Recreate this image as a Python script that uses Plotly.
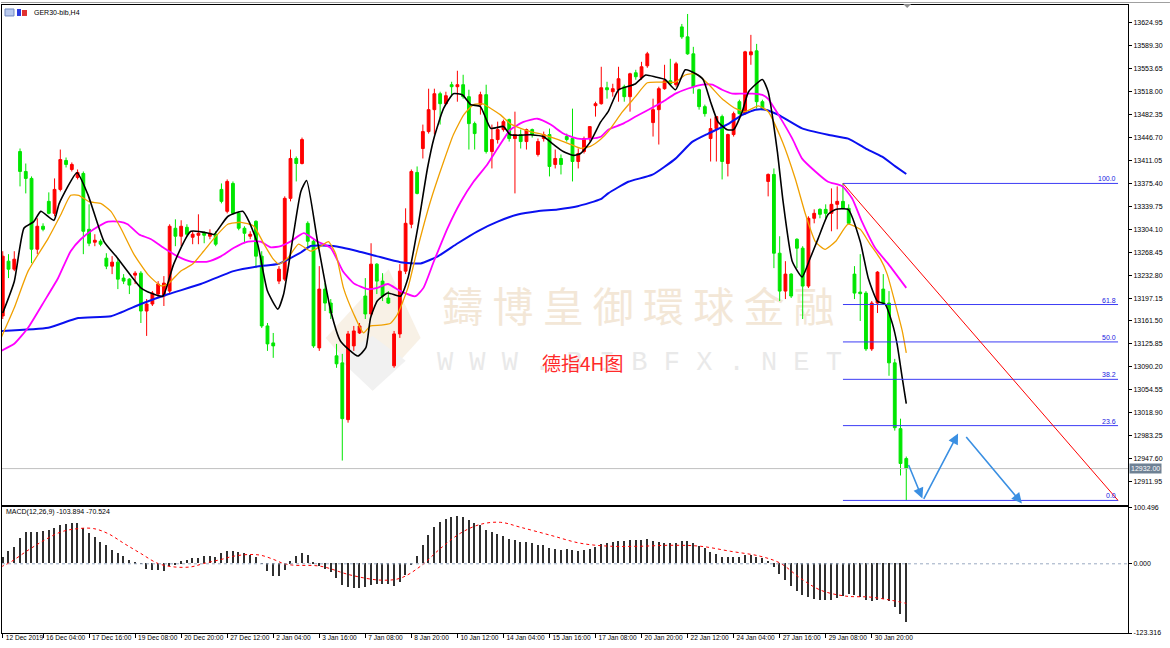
import plotly.graph_objects as go

# ---------------- data ----------------
bar_idx = list(range(1, 159))
opens = [13169.3,13254.5,13242.1,13425.0,13394.0,13383.2,13273.1,13308.8,13347.5,13328.9,
         13366.1,13411.1,13397.1,13384.7,13390.9,13304.1,13284.0,13285.5,13259.2,13246.8,
         13253.0,13228.2,13226.6,13232.8,13235.9,13177.0,13187.9,13203.4,13200.3,13208.0,
         13305.7,13293.3,13307.2,13291.7,13294.8,13297.9,13293.3,13296.4,13366.1,13332.0,
         13375.4,13328.9,13305.7,13293.3,13316.5,13262.3,13153.8,13127.4,13223.5,13226.6,
         13352.2,13414.2,13406.4,13313.4,13285.5,13119.7,13211.1,13189.4,13107.3,13096.4,
         13008.1,13122.8,13142.9,13200.3,13172.4,13249.9,13223.5,13197.2,13091.8,13141.4,
         13239.0,13311.9,13392.5,13429.7,13456.0,13490.1,13514.9,13499.4,13528.9,13525.8,
         13528.9,13510.3,13468.4,13497.9,13513.4,13425.0,13443.6,13459.1,13474.6,13445.2,
         13451.4,13440.5,13459.1,13420.4,13445.2,13451.4,13404.9,13414.2,13448.3,13445.2,
         13409.5,13425.0,13445.2,13496.3,13499.4,13524.2,13518.0,13521.1,13525.8,13510.3,
         13547.5,13539.7,13558.3,13470.0,13490.1,13522.7,13535.1,13528.9,13618.8,13603.3,
         13576.9,13521.1,13494.8,13445.2,13460.7,13479.3,13406.4,13451.4,13502.5,13483.9,
         13575.4,13581.6,13502.5,13378.5,13389.4,13266.9,13208.0,13234.4,13288.6,13274.7,
         13215.8,13321.2,13335.1,13335.1,13328.9,13342.9,13347.5,13336.7,13234.4,13206.5,
         13204.9,13118.1,13189.4,13211.1,13189.4,13096.4,12994.1,12947.6]
highs = [13270.0,13265.4,13270.0,13429.7,13406.4,13386.3,13321.2,13313.4,13361.5,13383.2,
         13428.1,13415.7,13408.0,13397.1,13394.0,13342.9,13296.4,13288.6,13266.9,13262.3,
         13259.2,13234.4,13228.2,13239.0,13239.0,13195.6,13208.0,13223.5,13231.3,13311.9,
         13319.6,13318.1,13311.9,13301.0,13327.4,13301.0,13304.1,13301.0,13375.4,13381.6,
         13378.5,13332.0,13308.8,13301.0,13318.1,13270.0,13158.4,13142.9,13246.8,13355.3,
         13428.1,13417.3,13446.7,13316.5,13288.6,13246.8,13220.4,13195.6,13125.9,13110.4,
         13146.0,13153.8,13158.4,13228.2,13282.4,13251.4,13235.9,13208.0,13146.0,13249.9,
         13336.7,13397.1,13401.8,13466.9,13522.7,13522.7,13518.0,13518.0,13533.5,13550.6,
         13544.4,13521.1,13471.5,13518.0,13528.9,13466.9,13471.5,13474.6,13476.2,13487.0,
         13459.1,13460.7,13460.7,13445.2,13456.0,13460.7,13428.1,13420.4,13452.9,13491.7,
         13429.7,13448.3,13463.8,13502.5,13556.8,13533.5,13530.4,13556.8,13528.9,13547.5,
         13552.1,13564.5,13580.0,13507.2,13525.8,13559.9,13569.2,13564.5,13623.4,13638.9,
         13587.8,13522.7,13497.9,13476.2,13479.3,13482.4,13452.9,13487.0,13505.6,13581.6,
         13606.4,13592.4,13505.6,13390.9,13398.7,13293.3,13254.5,13235.9,13290.2,13277.8,
         13324.3,13335.1,13336.7,13342.9,13367.7,13370.8,13375.4,13342.9,13246.8,13265.4,
         13208.0,13192.5,13239.0,13234.4,13208.0,13102.6,13009.6,12950.7]
lows = [13164.6,13228.2,13239.0,13370.8,13359.9,13251.4,13265.4,13301.0,13327.4,13324.3,
        13363.0,13400.2,13394.0,13381.6,13265.4,13277.8,13277.8,13277.8,13242.1,13234.4,
        13211.1,13218.9,13203.4,13218.9,13158.4,13138.3,13184.8,13197.2,13184.8,13204.9,
        13277.8,13277.8,13293.3,13280.9,13280.9,13282.4,13288.6,13277.8,13344.4,13328.9,
        13327.4,13302.6,13282.4,13288.6,13243.7,13150.7,13115.0,13104.2,13218.9,13223.5,
        13347.5,13378.5,13404.9,13274.7,13119.7,13115.0,13177.0,13164.6,13088.7,12944.5,
        13003.4,13115.0,13141.4,13164.6,13169.3,13203.4,13192.5,13187.9,13088.7,13135.2,
        13234.4,13305.7,13358.4,13414.2,13452.9,13451.4,13466.9,13497.9,13510.3,13502.5,
        13507.2,13428.1,13428.1,13482.4,13421.9,13398.7,13437.4,13456.0,13440.5,13359.9,
        13429.7,13428.1,13446.7,13417.3,13440.5,13386.3,13398.7,13389.4,13440.5,13378.5,
        13398.7,13421.9,13440.5,13479.3,13497.9,13507.2,13510.3,13502.5,13502.5,13487.0,
        13536.6,13536.6,13555.2,13448.3,13435.9,13521.1,13528.9,13525.8,13600.2,13575.4,
        13514.9,13490.1,13479.3,13409.5,13409.5,13381.6,13386.3,13448.3,13482.4,13482.4,
        13559.9,13491.7,13490.1,13355.3,13243.7,13192.5,13195.6,13197.2,13243.7,13164.6,
        13212.7,13313.4,13321.2,13321.2,13301.0,13304.1,13335.1,13311.9,13195.6,13161.5,
        13115.0,13115.0,13173.9,13187.9,13076.3,12991.0,12921.3,12882.5]
closes = [13262.3,13242.1,13257.6,13394.0,13383.2,13273.1,13308.8,13304.1,13328.9,13366.1,
          13412.6,13404.9,13404.9,13392.5,13301.0,13282.4,13287.1,13280.9,13246.8,13253.0,
          13226.6,13223.5,13217.3,13235.9,13177.0,13187.9,13204.9,13218.9,13220.4,13308.8,
          13293.3,13308.8,13296.4,13296.4,13297.9,13294.8,13297.9,13280.9,13347.5,13378.5,
          13328.9,13305.7,13297.9,13296.4,13262.3,13153.8,13125.9,13122.8,13242.1,13352.2,
          13414.2,13406.4,13443.6,13285.5,13122.8,13211.1,13189.4,13173.9,13094.9,13009.6,
          13141.4,13146.0,13153.8,13172.4,13249.9,13223.5,13200.3,13189.4,13141.4,13239.0,
          13313.4,13394.0,13359.9,13456.0,13490.1,13514.9,13499.4,13511.8,13525.8,13528.9,
          13510.3,13468.4,13452.9,13513.4,13425.0,13443.6,13459.1,13471.5,13445.2,13451.4,
          13440.5,13459.1,13451.4,13440.5,13451.4,13401.8,13414.2,13404.9,13443.6,13409.5,
          13421.9,13445.2,13463.8,13499.4,13524.2,13521.1,13522.7,13538.2,13510.3,13545.9,
          13541.3,13556.8,13576.9,13490.1,13522.7,13535.1,13530.4,13561.4,13603.3,13576.9,
          13525.8,13494.8,13483.9,13460.7,13479.3,13409.5,13451.4,13483.9,13483.9,13580.0,
          13580.0,13502.5,13491.7,13389.4,13266.9,13208.0,13234.4,13200.3,13274.7,13215.8,
          13321.2,13328.9,13327.4,13328.9,13342.9,13347.5,13336.7,13313.4,13204.9,13204.0,
          13118.1,13189.4,13237.5,13189.4,13096.4,12995.6,12939.9,12932.0]

# moving averages
fast_idx = [1.0,3.0,4.7,6.4,7.6,9.9,10.8,13.9,15.8,18.6,20.7,25.0,26.7,28.8,30.7,33.7,36.8,37.7,40.1,42.7,
            43.8,45.3,47.0,48.8,49.8,51.4,52.8,53.8,55.7,58.0,59.7,62.7,64.1,64.9,66.1,67.9,70.1,71.4,73.1,74.8,
            75.9,77.6,79.3,80.9,82.3,84.0,85.8,88.0,89.2,92.7,95.0,96.7,98.4,100.2,101.4,103.1,104.9,106.2,108.0,110.9,
            112.7,114.4,116.1,117.9,119.6,121.4,122.7,124.0,125.3,126.9,128.0,129.5,130.6,133.0,134.0,135.6,136.6,138.2,
            139.9,141.3,142.7,144.4,145.7,147.9,150.0,151.4,153.0,154.3,155.6,156.4,157.3,158.0]
fast_val = [13174,13223,13306,13316,13332,13318,13344,13392,13358,13285,13262,13213,13205,13200,13250,13301,13298,
            13296,13324,13332,13316,13281,13208,13180,13203,13290,13363,13380,13285,13177,13130,13107,13120,13166,
            13193,13205,13200,13228,13306,13399,13445,13492,13515,13513,13498,13495,13461,13464,13451,13451,13448,
            13436,13425,13419,13422,13440,13471,13487,13521,13530,13544,13541,13537,13521,13552,13546,13537,13502,
            13471,13459,13459,13487,13518,13537,13518,13425,13347,13254,13230,13259,13290,13327,13335,13335,13285,
            13228,13192,13188,13157,13126,13073,13033]
mid_idx = [0.7,3.0,5.4,8.9,11.1,12.8,14.2,16.0,18.1,19.8,21.5,23.8,26.2,28.5,29.7,31.9,34.0,35.9,38.0,40.1,
           42.4,44.6,46.4,47.9,49.0,50.5,52.4,54.5,56.3,57.6,58.9,60.2,62.0,63.7,64.9,66.7,68.4,69.6,71.4,73.1,
           75.3,77.6,79.3,81.1,82.8,84.4,85.8,87.5,89.2,91.0,92.7,95.0,97.4,99.7,101.4,103.1,104.9,106.2,108.7,110.9,
           113.0,115.6,117.9,119.6,121.4,123.6,126.0,128.3,130.0,132.3,134.0,136.5,138.7,140.5,142.2,143.9,145.7,
           147.9,150.0,151.7,153.5,154.7,156.1,157.3,158.0]
mid_val = [13135,13182,13239,13290,13327,13357,13357,13347,13344,13332,13306,13265,13234,13216,13219,13239,13250,
           13270,13293,13312,13315,13309,13281,13259,13250,13259,13281,13270,13278,13285,13265,13213,13172,13143,
           13154,13155,13158,13172,13213,13275,13347,13409,13451,13482,13498,13499,13492,13482,13468,13461,13456,
           13451,13444,13436,13430,13433,13444,13456,13487,13510,13532,13533,13533,13544,13546,13530,13507,13492,
           13487,13496,13487,13440,13383,13327,13285,13273,13285,13312,13304,13281,13258,13234,13188,13146,13112]
slow_idx = [0.7,3.0,5.4,8.2,10.6,12.8,14.6,16.8,19.3,21.2,22.7,24.7,26.7,29.0,31.4,33.7,36.6,38.9,41.1,43.6,
            45.8,47.6,49.3,51.0,53.3,55.7,58.0,60.1,62.0,64.4,66.1,67.9,70.1,72.7,74.1,75.9,78.3,80.6,82.8,85.2,
            87.0,89.2,91.5,93.9,96.2,98.4,100.9,103.1,104.9,106.2,108.7,110.9,113.2,115.6,117.9,120.1,122.6,124.3,
            126.0,127.8,129.5,131.3,133.0,134.0,135.8,138.2,139.9,142.2,144.4,146.9,148.6,150.3,152.6,154.9,158.0]
slow_val = [13115,13126,13151,13192,13228,13270,13289,13304,13316,13316,13312,13296,13289,13275,13262,13254,13254,
            13262,13275,13285,13285,13276,13278,13285,13298,13285,13275,13239,13220,13211,13213,13219,13208,13200,
            13213,13254,13306,13347,13378,13405,13430,13459,13471,13476,13467,13453,13445,13445,13448,13459,13468,
            13479,13490,13502,13515,13523,13529,13529,13521,13515,13515,13515,13513,13507,13482,13445,13414,13394,
            13378,13371,13352,13316,13275,13250,13213]
long_idx = [0.7,8.9,14.1,19.8,25.0,29.7,35.4,41.1,45.8,48.8,52.8,54.5,58.5,62.7,66.1,70.1,73.6,76.6,80.0,83.5,
            87.0,90.5,93.9,97.4,100.9,104.9,106.2,109.7,113.9,117.9,120.8,123.6,127.1,129.5,131.8,133.5,135.8,
            139.9,144.4,147.9,150.9,153.8,156.1,158.0]
long_val = [13146,13151,13166,13169,13188,13203,13219,13239,13247,13250,13268,13278,13278,13270,13262,13253,13251,
            13262,13282,13301,13316,13327,13332,13335,13340,13351,13360,13378,13389,13414,13440,13453,13468,13482,
            13490,13490,13482,13461,13451,13445,13430,13417,13402,13390]

# MACD(12,26,9)
macd_hist = [11.7,22.9,30.0,46.0,55.6,56.1,56.7,57.9,59.1,62.7,68.0,70.3,71.6,71.6,62.7,53.8,47.8,38.9,33.0,24.2,
             18.3,12.3,5.2,2.8,-0.7,-10.1,-12.6,-12.6,-14.4,-5.5,-2.5,3.4,6.4,9.4,10.5,12.3,12.3,11.2,18.3,22.9,
             22.4,20.1,18.3,15.3,11.2,0.5,-14.4,-23.3,-22.0,-11.4,3.4,13.5,18.8,15.3,2.8,-4.3,-9.6,-14.9,-25.6,-38.0,
             -41.6,-43.3,-43.3,-41.6,-38.0,-36.2,-36.2,-36.2,-39.8,-32.7,-20.2,-2.5,13.5,33.0,50.8,65.0,73.9,79.2,82.8,84.5,
             82.8,77.4,72.1,68.6,59.7,56.1,52.6,49.0,43.7,41.9,38.4,38.4,36.6,33.0,33.0,27.7,25.9,24.2,25.9,24.2,
             22.4,24.2,25.9,29.5,34.8,36.6,38.4,40.1,40.1,41.9,41.9,41.9,43.7,40.1,38.4,36.6,36.6,36.6,40.1,40.1,
             36.6,31.3,27.7,20.6,17.0,11.7,11.7,11.7,11.7,15.3,15.3,11.7,9.9,4.6,-6.0,-18.5,-29.1,-39.8,-48.7,-55.8,
             -59.3,-62.9,-64.6,-64.6,-64.6,-61.1,-57.5,-54.0,-55.8,-59.3,-64.6,-66.4,-64.6,-62.9,-66.4,-77.1,-89.5,-103.9]
sig_idx = [0.7,2.4,5.4,8.2,11.1,14.1,16.8,19.3,22.1,25.0,28.0,30.7,33.7,35.9,38.9,41.1,43.6,45.8,48.1,49.8,
           51.6,56.2,61.5,66.7,70.1,73.6,77.1,80.5,84.0,87.5,91.0,96.2,101.4,106.6,111.8,117.0,122.2,127.4,132.6,
           136.1,139.6,143.1,147.4,151.7,155.2,158.0]
sig_val = [-5.5,3.4,24.2,41.9,56.7,62.7,62.7,53.8,36.1,18.3,0.5,-5.5,-5.5,0.5,7.6,13.5,16.5,15.3,7.6,0.5,
           -2.5,-4.3,-20.2,-29.1,-25.6,-4.3,27.7,54.3,70.3,73.9,65.0,50.8,36.6,31.3,31.3,33.0,31.3,22.4,13.5,
           1.1,-25.6,-46.9,-57.5,-59.3,-64.6,-70.5]

# axis labels
price_ticks = [13624.95,13589.30,13553.65,13518.00,13482.35,13446.70,13411.05,13375.40,13339.75,13304.10,
               13268.45,13232.80,13197.15,13161.50,13125.85,13090.20,13054.55,13018.90,12983.25,12947.60,12911.95]
macd_ticks = [100.496, 0.0, -123.316]
macd_tick_text = ["100.496", "0.000", "-123.316"]
time_tick_idx = [1] + list(range(8, 153, 8))
time_tick_text = ["12 Dec 2019","16 Dec 04:00","17 Dec 16:00","19 Dec 08:00","20 Dec 20:00","27 Dec 12:00",
                  "2 Jan 04:00","3 Jan 16:00","7 Jan 08:00","8 Jan 20:00","10 Jan 12:00","14 Jan 04:00",
                  "15 Jan 16:00","17 Jan 08:00","20 Jan 20:00","22 Jan 12:00","24 Jan 04:00","27 Jan 16:00",
                  "29 Jan 08:00","30 Jan 20:00"]

# drawings
fib_start_idx, fib_end_idx = 147, 194.8
fib_high, fib_low = 13375.4, 12882.5
fib_levels = [100.0, 61.8, 50.0, 38.2, 23.6, 0.0]
last_price = 12932.00
arrow_from_idx = [158.3, 160.9, 168.2]
arrow_from_px = [12939.9, 12882.5, 12983.3]
arrow_to_idx = [160.8, 167.0, 178.1]
arrow_to_px = [12885.6, 12986.4, 12877.9]

# ---------------- layout helpers ----------------
W, H = 1170, 648
PL, PR, PT, PB = 1, 1128, 3, 633
def xp(px):
    return (px - PL) / (PR - PL)
def yp(py):
    return (PB - py) / (PB - PT)

X_RANGE = [0.868, 196.53]
Y_RANGE = [12874.75, 13652.85]
M_RANGE = [-123.316, 100.496]
FONT = "Liberation Sans"

fig = go.Figure()
fig.add_trace(go.Candlestick(
    x=bar_idx, open=opens, high=highs, low=lows, close=closes,
    increasing=dict(line=dict(color="#ff0000", width=1), fillcolor="#ff0000"),
    decreasing=dict(line=dict(color="#00e600", width=1), fillcolor="#00e600"),
    whiskerwidth=0, hoverinfo="skip", xaxis="x", yaxis="y", showlegend=False))

for xs, ys, col, w in [(long_idx, long_val, "#0a10f0", 2),
                       (slow_idx, slow_val, "#ff00ff", 1.8),
                       (mid_idx, mid_val, "#f0a000", 1.3),
                       (fast_idx, fast_val, "#000000", 1.6)]:
    fig.add_trace(go.Scatter(x=xs, y=ys, mode="lines", line=dict(color=col, width=w, shape="spline", smoothing=0.5),
                             hoverinfo="skip", showlegend=False, xaxis="x", yaxis="y"))

fig.add_trace(go.Bar(x=bar_idx, y=macd_hist, width=0.25, marker=dict(color="#303030", line=dict(width=0)),
                     hoverinfo="skip", showlegend=False, xaxis="x2", yaxis="y2"))
fig.add_trace(go.Scatter(x=sig_idx, y=sig_val, mode="lines", line=dict(color="#ff0000", width=1, dash="dot", shape="spline"),
                         hoverinfo="skip", showlegend=False, xaxis="x2", yaxis="y2"))

shapes = []
annotations = []

# watermark (below the data)
shapes.append(dict(type="path", xref="paper", yref="paper", layer="below",
                   path=f"M {xp(325)} {yp(337)} L {xp(388)} {yp(268)} L {xp(420)} {yp(337)} L {xp(372)} {yp(390)} Z",
                   fillcolor="#f8f1e6", line=dict(width=0)))
shapes.append(dict(type="path", xref="paper", yref="paper", layer="below",
                   path=f"M {xp(335)} {yp(355)} L {xp(372)} {yp(390)} L {xp(405)} {yp(360)} L {xp(372)} {yp(335)} Z",
                   fillcolor="#f1f1f1", line=dict(width=0)))
shapes.append(dict(type="rect", xref="paper", yref="paper", layer="below",
                   x0=xp(414), x1=xp(862), y0=yp(336), y1=yp(284), line=dict(width=0),
                   fillcolor="rgba(0,0,0,0)",
                   label=dict(text="鑄 博 皇 御 環 球 金 融", textposition="middle center",
                              font=dict(size=41, color="#f3e7d7", family="Noto Sans CJK TC"))))
shapes.append(dict(type="rect", xref="paper", yref="paper", layer="below",
                   x0=xp(416), x1=xp(862), y0=yp(372), y1=yp(342), line=dict(width=0),
                   fillcolor="rgba(0,0,0,0)",
                   label=dict(text="W W W . B I B F X . N E T", textposition="middle center",
                              font=dict(size=27, color="#e9e9e9", family="Liberation Mono"))))

# current price line
shapes.append(dict(type="line", xref="paper", yref="y", x0=0, x1=1, y0=last_price, y1=last_price,
                   line=dict(color="#c0c0c0", width=1)))
# fibonacci
rng = fib_high - fib_low
for lvl in fib_levels:
    pv = fib_low + rng * lvl / 100.0
    shapes.append(dict(type="line", xref="x", yref="y", x0=fib_start_idx, x1=fib_end_idx, y0=pv, y1=pv,
                       line=dict(color="#3c3cf5", width=1)))
    annotations.append(dict(x=fib_end_idx, y=pv, xref="x", yref="y", xanchor="right", yanchor="bottom",
                            text=f"{lvl:.1f}", showarrow=False, yshift=-1,
                            font=dict(size=7, color="#2020e0", family=FONT)))
shapes.append(dict(type="line", xref="x", yref="y", x0=fib_start_idx, x1=fib_end_idx, y0=fib_high, y1=fib_low,
                   line=dict(color="#ff0000", width=1)))

# MACD zero level
shapes.append(dict(type="line", xref="paper", yref="y2", x0=0, x1=1, y0=0, y1=0,
                   line=dict(color="#9aaac2", width=1, dash="dot")))

# window decorations
shapes.append(dict(type="line", xref="paper", yref="paper", x0=xp(0), x1=xp(1170), y0=yp(0.5), y1=yp(0.5),
                   line=dict(color="#a0a0a0", width=1)))
shapes.append(dict(type="path", xref="paper", yref="paper",
                   path=f"M {xp(903)} {yp(2)} L {xp(911)} {yp(2)} L {xp(907)} {yp(6)} Z",
                   fillcolor="#909090", line=dict(width=0)))
shapes.append(dict(type="rect", xref="paper", yref="paper", x0=xp(4), x1=xp(13), y0=yp(14), y1=yp(7),
                   fillcolor="#b8c8ec", line=dict(color="#7088c0", width=1)))
shapes.append(dict(type="rect", xref="paper", yref="paper", x0=xp(16), x1=xp(20), y0=yp(14), y1=yp(7),
                   fillcolor="#2a3ae0", line=dict(width=0)))
shapes.append(dict(type="rect", xref="paper", yref="paper", x0=xp(21), x1=xp(26), y0=yp(14), y1=yp(8),
                   fillcolor="#e03030", line=dict(width=0)))

# texts
annotations.append(dict(x=xp(31), y=yp(11), xref="paper", yref="paper", xanchor="left", yanchor="middle",
                        text="GER30-bib,H4", showarrow=False, font=dict(size=7, color="#000000", family=FONT)))
annotations.append(dict(x=xp(3), y=yp(512), xref="paper", yref="paper", xanchor="left", yanchor="middle",
                        text="MACD(12,26,9) -103.894 -70.524", showarrow=False,
                        font=dict(size=7, color="#000000", family=FONT)))
annotations.append(dict(x=xp(582), y=yp(362), xref="paper", yref="paper", xanchor="center", yanchor="middle",
                        text="德指4H图", showarrow=False,
                        font=dict(size=19, color="#ff2a2a", family="Noto Sans CJK SC")))
annotations.append(dict(x=1, y=last_price, xref="paper", yref="y", xanchor="left", yanchor="middle", xshift=1,
                        text=f"{last_price:.2f}", showarrow=False, bgcolor="#6e8194", borderpad=1,
                        font=dict(size=7, color="#ffffff", family=FONT)))
for fx, fy, tx, ty in zip(arrow_from_idx, arrow_from_px, arrow_to_idx, arrow_to_px):
    annotations.append(dict(x=tx, y=ty, ax=fx, ay=fy, xref="x", yref="y", axref="x", ayref="y",
                            text="", showarrow=True, arrowhead=2, arrowsize=1.3, arrowwidth=1.6,
                            arrowcolor="#3a8fe2"))

fig.update_layout(
    width=W, height=H, autosize=False,
    margin=dict(l=PL, r=W - PR, t=PT, b=H - PB),
    paper_bgcolor="#ffffff", plot_bgcolor="#ffffff",
    showlegend=False, hovermode=False, bargap=0,
    shapes=shapes, annotations=annotations,
    xaxis=dict(domain=[0, 1], range=X_RANGE, anchor="y", showticklabels=False, ticks="",
               showgrid=False, zeroline=False, showline=True, mirror=True, linecolor="#000000", linewidth=1,
               rangeslider=dict(visible=False), fixedrange=True),
    yaxis=dict(domain=[yp(505), 1], range=Y_RANGE, side="right", anchor="x",
               tickmode="array", tickvals=price_ticks, ticktext=[f"{v:.2f}" for v in price_ticks],
               ticks="outside", ticklen=3, tickcolor="#000000", ticklabelstandoff=0,
               tickfont=dict(size=7, color="#000000", family=FONT),
               showgrid=False, zeroline=False, showline=True, mirror=True, linecolor="#000000", linewidth=1,
               fixedrange=True),
    xaxis2=dict(domain=[0, 1], range=X_RANGE, anchor="y2",
                tickmode="array", tickvals=time_tick_idx, ticktext=time_tick_text,
                ticks="outside", ticklen=4, tickcolor="#000000", ticklabelposition="outside right",
                tickangle=0, ticklabelstandoff=-2, ticklabelshift=2,
                tickfont=dict(size=6.6, color="#000000", family=FONT),
                showgrid=False, zeroline=False, showline=True, mirror=True, linecolor="#000000", linewidth=1,
                fixedrange=True),
    yaxis2=dict(domain=[0, yp(507)], range=M_RANGE, side="right", anchor="x2",
                tickmode="array", tickvals=macd_ticks, ticktext=macd_tick_text,
                ticks="outside", ticklen=3, tickcolor="#000000", ticklabelstandoff=0,
                tickfont=dict(size=7, color="#000000", family=FONT),
                showgrid=False, zeroline=False, showline=True, mirror=True, linecolor="#000000", linewidth=1,
                fixedrange=True),
)

fig.write_html("out.html", config={"displayModeBar": False},
               post_script="document.body.style.margin='0px';document.body.style.padding='0px';")
